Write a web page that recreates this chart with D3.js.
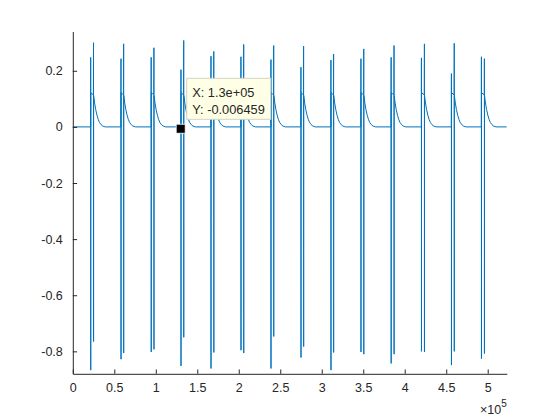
<!DOCTYPE html>
<html>
<head>
<meta charset="utf-8">
<script src="https://cdn.jsdelivr.net/npm/d3@7"></script>
<style>
  html, body { margin: 0; padding: 0; background: #fff; }
  svg { display: block; }
  text { font-family: "Liberation Sans", Arial, Helvetica, sans-serif; }
</style>
</head>
<body>
<svg id="chart" width="560" height="420"></svg>
<script>
// ---- data ----
const xDomain = [0, 523000];
const yDomain = [-0.88, 0.34];
const xTicks = [0, 50000, 100000, 150000, 200000, 250000, 300000, 350000, 400000, 450000, 500000];
const xTickLabels = ["0", "0.5", "1", "1.5", "2", "2.5", "3", "3.5", "4", "4.5", "5"];
const yTicks = [-0.8, -0.6, -0.4, -0.2, 0, 0.2];
const yTickLabels = ["-0.8", "-0.6", "-0.4", "-0.2", "0", "0.2"];

// pulse events: first spike position, gap to second spike, extremes
const eventX  = [21570, 58070, 94460, 130360, 166510, 202650, 238800, 274940, 311080, 347230, 383610, 420120, 456260, 492410];
const eventGap = [3400, 3200, 3300, 3300, 3400, 3300, 3300, 3200, 3200, 3400, 3500, 3600, 3400, 3600];
const peak1   = [0.248, 0.243, 0.248, 0.204, 0.252, 0.250, 0.240, 0.213, 0.238, 0.243, 0.248, 0.246, 0.190, 0.250];
const trough1 = [-0.867, -0.828, -0.802, -0.852, -0.861, -0.796, -0.861, -0.822, -0.867, -0.802, -0.843, -0.800, -0.849, -0.826];
const peak2   = [0.300, 0.296, 0.282, 0.308, 0.269, 0.294, 0.290, 0.288, 0.260, 0.278, 0.290, 0.296, 0.298, 0.243];
const trough2 = [-0.765, -0.806, -0.793, -0.750, -0.804, -0.806, -0.747, -0.783, -0.804, -0.810, -0.810, -0.802, -0.800, -0.808];
const midLevel = [0.122, 0.114];              // level between the two spikes (start, end)
const tailDx = [0, 1200, 2500, 4000, 5500, 7000, 9000, 11000, 14000];
const tailY  = [0.112, 0.085, 0.062, 0.042, 0.027, 0.016, 0.008, 0.003, 0];

// data tip
const tipX = 130000, tipY = -0.006459;
const tipLines = ["X: 1.3e+05", "Y: -0.006459"];

// ---- build the signal from the read values ----
const pts = [[xDomain[0], 0]];
eventX.forEach((x0, i) => {
  const x1 = x0 + eventGap[i];
  pts.push([x0 - 80, 0], [x0, peak1[i]], [x0 + 60, trough1[i]], [x0 + 120, midLevel[0]],
           [x1 - 120, midLevel[1]], [x1, peak2[i]], [x1 + 60, trough2[i]]);
  tailDx.forEach((dx, j) => pts.push([x1 + 120 + dx, tailY[j]]));
});
pts.push([xDomain[1], 0]);

// ---- layout ----
const L = 72.8, R = 506.8, T = 31.5, B = 373.8;
const axisColor = "#262626";
const svg = d3.select("#chart");
svg.append("rect").attr("width", 560).attr("height", 420).attr("fill", "#fff");

const x = d3.scaleLinear().domain(xDomain).range([L, R]);
const y = d3.scaleLinear().domain(yDomain).range([B, T]);

svg.append("defs").append("clipPath").attr("id", "clip")
  .append("rect").attr("x", L).attr("y", T).attr("width", R - L).attr("height", B - T);

svg.append("path")
  .datum(pts)
  .attr("clip-path", "url(#clip)")
  .attr("fill", "none")
  .attr("stroke", "#0072BD")
  .attr("stroke-width", 1)
  .attr("d", d3.line().x(d => x(d[0])).y(d => y(d[1])));

// axes
const xAxis = d3.axisBottom(x).tickValues(xTicks).tickFormat((d, i) => xTickLabels[i])
  .tickSizeInner(-4.3).tickSizeOuter(0).tickPadding(9);
const gx = svg.append("g").attr("transform", `translate(0,${B})`).call(xAxis);
const yAxis = d3.axisLeft(y).tickValues(yTicks).tickFormat((d, i) => yTickLabels[i])
  .tickSizeInner(-4.3).tickSizeOuter(0).tickPadding(10);
const gy = svg.append("g").attr("transform", `translate(${L},0)`).call(yAxis);
[gx, gy].forEach(g => {
  g.select(".domain").attr("stroke", axisColor).attr("stroke-width", 1);
  g.selectAll(".tick line").attr("stroke", axisColor).attr("stroke-width", 1);
  g.selectAll(".tick text").attr("fill", axisColor).style("font-size", "12.5px")
    .style("font-family", '"Liberation Sans", Arial, Helvetica, sans-serif');
});

// exponent label
const ex = svg.append("text").attr("x", R).attr("y", 414).attr("text-anchor", "end")
  .attr("fill", axisColor).style("font-size", "12.5px");
ex.append("tspan").text("\u00D710");
ex.append("tspan").attr("dy", -7).style("font-size", "10px").text("5");

// data tip marker
svg.append("rect")
  .attr("x", x(tipX) - 4.5).attr("y", y(tipY) - 4.5)
  .attr("width", 9).attr("height", 9)
  .attr("fill", "#000").attr("stroke", "#fff").attr("stroke-width", 0.8);

// data tip box
const bx = 186.7, by = 78.3, bw = 84, bh = 41;
svg.append("rect").attr("x", bx).attr("y", by).attr("width", bw).attr("height", bh)
  .attr("fill", "#ffffe6").attr("stroke", "#d4d4c4").attr("stroke-width", 1);
tipLines.forEach((t, i) => {
  svg.append("text").attr("x", bx + 5.5).attr("y", by + 19 + i * 17)
    .attr("fill", axisColor).style("font-size", "12.8px").text(t);
});
</script>
</body>
</html>
